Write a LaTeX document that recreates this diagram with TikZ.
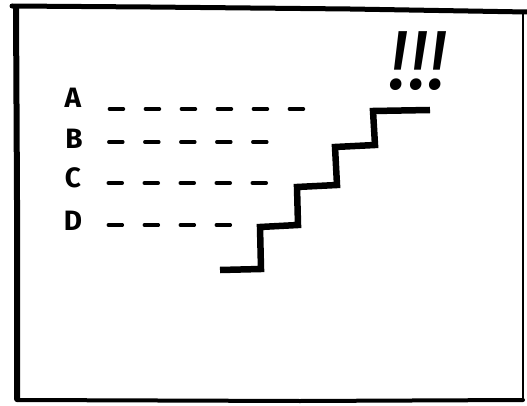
\documentclass[tikz,border=0pt]{standalone}
\usepackage{fontspec}
\setsansfont{Fira Sans}
\usepackage{tikz}

\begin{document}
\begin{tikzpicture}[
  x=1pt, y=-1pt,
  every node/.style={font=\sffamily},
  level/.style={inner sep=0pt, font=\sffamily\bfseries\fontsize{28}{28}\selectfont},
  guide/.style={line width=3.5pt, line cap=round, dash pattern=on 14pt off 22pt},
  stair/.style={line width=6.5pt, line join=miter},
  rim/.style={line cap=round}
]
\useasboundingbox (0,0) rectangle (527,406);

% frame
\draw[rim, line width=5pt] (12,6) -- (150,7) -- (350,9) -- (527,12);
\draw[rim, line width=6pt] (16,8) -- (17,200) -- (17,399);
\draw[rim, line width=4pt] (17,400) -- (300,401) -- (523,400);
\draw[line width=2.5pt] (523,13) -- (523,400);

% labels
\node[level] (a) at (73,98) {A};
\node[level] (b) at (74,139) {B};
\node[level] (c) at (73,178) {C};
\node[level] (d) at (73,221) {D};

\coordinate (aend) at (313,109);
\coordinate (bend) at (273,142);
\coordinate (cend) at (273,183);
\coordinate (dend) at (231,225);

\draw[guide] (a.east |- aend) ++(28,0) -- (aend);
\draw[guide] (b.east |- bend) ++(26,0) -- (bend);
\draw[guide] (c.east |- cend) ++(27,0) -- (cend);
\draw[guide] (d.east |- dend) ++(26,0) -- (dend);

% stairs
\draw[stair] (220,270) -- (261,269) -- (260,227) -- (298,225)
  -- (297,187) -- (337,185) -- (335,147) -- (375,145)
  -- (373,111) -- (430,110);

\node[inner sep=0pt, font=\sffamily\itshape\fontsize{84}{84}\selectfont]
  (wow) at (418,61) {!!!};

\end{tikzpicture}
\end{document}
